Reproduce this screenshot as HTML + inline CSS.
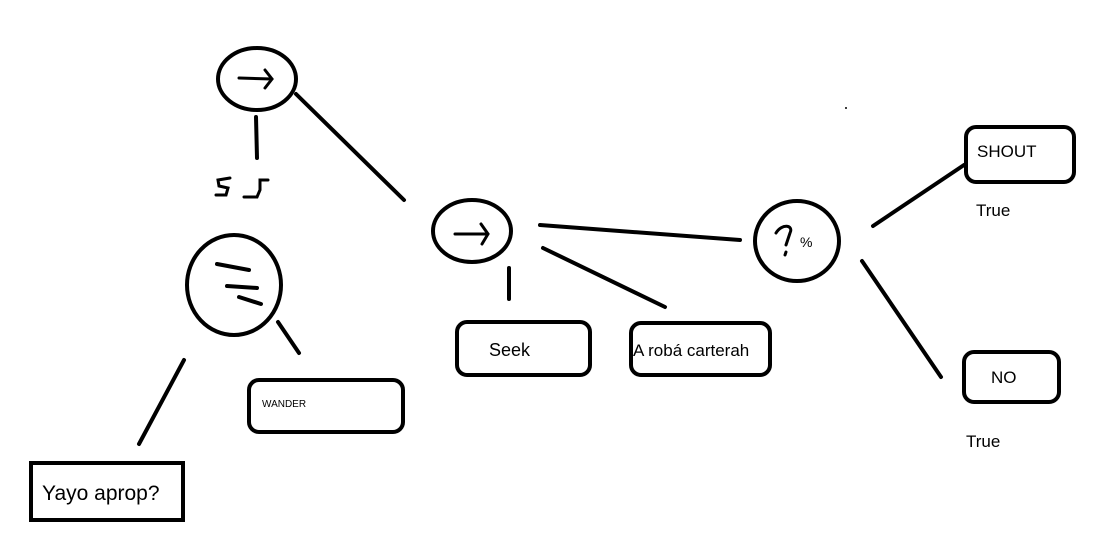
<!DOCTYPE html>
<html><head><meta charset="utf-8"><style>
html,body{margin:0;padding:0;background:#fff;width:1116px;height:534px;overflow:hidden}
svg{display:block}
text{font-family:"Liberation Sans",sans-serif;fill:#000}
</style></head><body>
<svg width="1116" height="534" viewBox="0 0 1116 534" xmlns="http://www.w3.org/2000/svg">
<g fill="none" stroke="#000" stroke-width="4" stroke-linecap="round">
<ellipse cx="257" cy="79" rx="39" ry="31"/>
<ellipse cx="472" cy="231" rx="39" ry="31"/>
<ellipse cx="234" cy="285" rx="47" ry="50"/>
<ellipse cx="797" cy="241" rx="42" ry="40"/>
<path d="M239 78 L272 79 M265 70 L272 79 L265 88" stroke-width="3"/>
<path d="M455 234 L488 234 M481 224 L488 234 L482 244" stroke-width="3"/>
<path d="M217 264 L249 270 M227 286 L257 288 M239 297 L261 304"/>
<path d="M256 117 L257 158"/>
<path d="M296 94 L404 200"/>
<path d="M540 225 L740 240"/>
<path d="M543 248 L665 307"/>
<path d="M509 268 L509 299"/>
<path d="M873 226 L964 165"/>
<path d="M862 261 L941 377"/>
<path d="M278 322 L299 353"/>
<path d="M184 360 L139 444"/>
<rect x="457" y="322" width="133" height="53" rx="10"/>
<rect x="631" y="323" width="139" height="52" rx="10"/>
<rect x="249" y="380" width="154" height="52" rx="10"/>
<rect x="31" y="463" width="152" height="57" rx="0"/>
<rect x="966" y="127" width="108" height="55" rx="10"/>
<rect x="964" y="352" width="95" height="50" rx="10"/>
<path d="M230 178 L218 180 L219 186 L228 188 L226 195 L216 195 M268 180 L260 180 L260 190 L257 197 L244 197" stroke-width="3"/>
<path d="M776 233 C782 223 794 225 790 233 L786 245 M786 252 L785 255" stroke-width="3"/>
</g>
<circle cx="846" cy="108" r="1" fill="#000"/>
<text x="489" y="356" font-size="18">Seek</text>
<text x="633" y="356" font-size="17">A robá carterah</text>
<text x="262" y="407" font-size="10">WANDER</text>
<text x="42" y="500" font-size="21">Yayo aprop?</text>
<text x="977" y="157" font-size="17">SHOUT</text>
<text x="991" y="383" font-size="17">NO</text>
<text x="976" y="216" font-size="17">True</text>
<text x="966" y="447" font-size="17">True</text>
<text x="800" y="247" font-size="14">%</text>
</svg>
</body></html>
